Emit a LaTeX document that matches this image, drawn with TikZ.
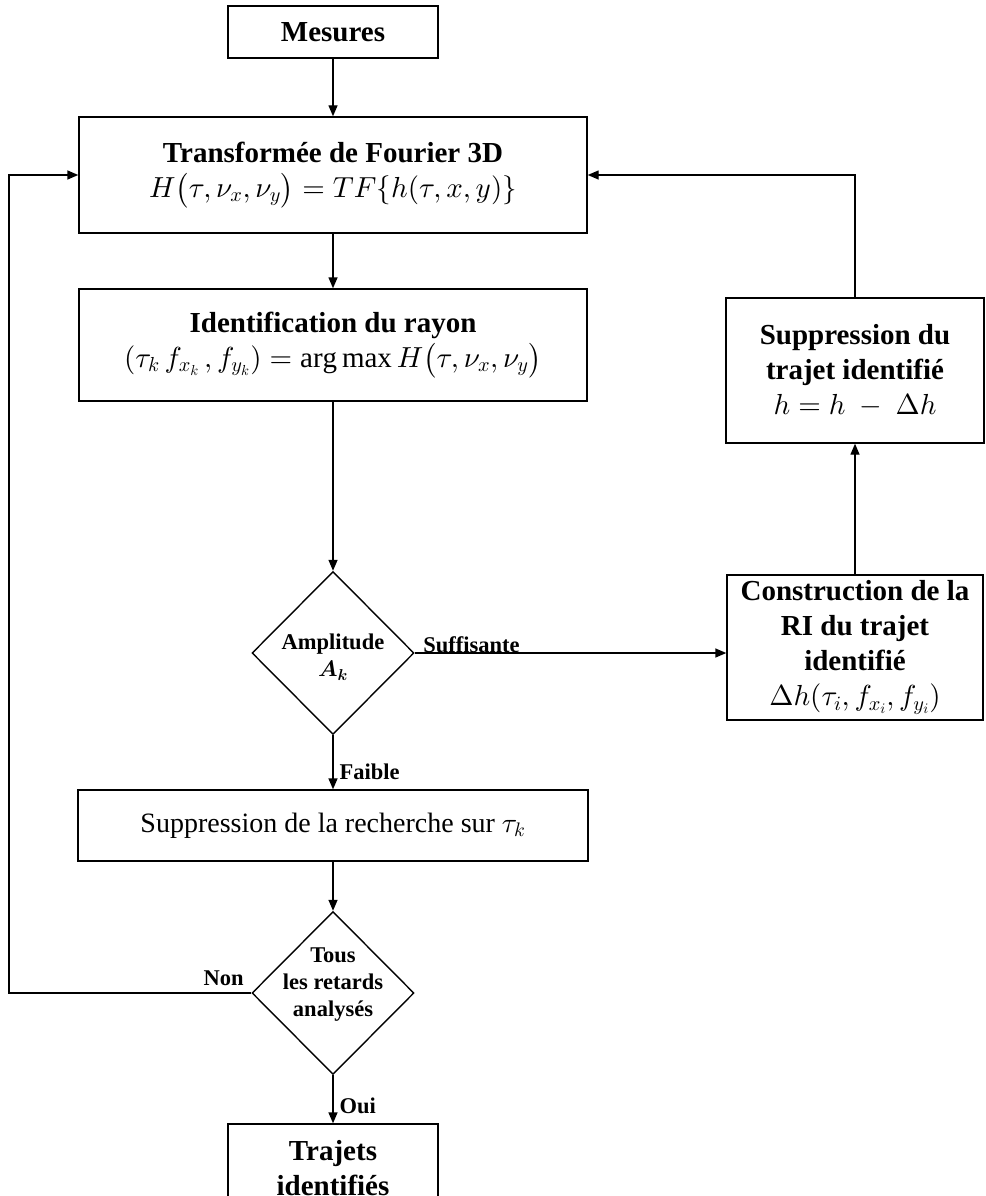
\documentclass[tikz,border=0pt]{standalone}
\usepackage{amsmath}
\usepackage{fontspec}
\setmainfont{Liberation Serif}
\usetikzlibrary{arrows.meta,shapes.geometric,calc}
% scalable math fonts
\DeclareFontShape{OML}{cmm}{m}{it}{<->cmmi10}{}
\DeclareFontShape{OML}{cmm}{b}{it}{<->cmmib10}{}
\DeclareFontShape{OMS}{cmsy}{m}{n}{<->cmsy10}{}
\DeclareFontShape{OMS}{cmsy}{b}{n}{<->cmbsy10}{}
\DeclareFontShape{OMX}{cmex}{m}{n}{<->cmex10}{}
\DeclareFontShape{OT1}{cmr}{m}{n}{<->cmr10}{}
\DeclareFontShape{OT1}{cmr}{bx}{n}{<->cmbx10}{}

\newcommand{\ttlfont}{\fontsize{29}{35}\selectfont\bfseries}
\newcommand{\lblfont}{\fontsize{22.5}{27}\selectfont\bfseries}
\newcommand{\txtfont}{\fontsize{28}{34}\selectfont}

\begin{document}
\begin{tikzpicture}[
  x=1pt, y=-1pt,
  blk/.style={draw=black, line width=1.4pt, align=center, inner sep=2pt, font=\ttlfont},
  dec/.style={draw=black, diamond, line width=1.4pt, inner sep=0pt,
              minimum width=162pt, minimum height=163pt},
  dtxt/.style={align=center, font=\lblfont, inner sep=0pt},
  flow/.style={-{Triangle[length=11pt,width=9pt]}, line width=1.4pt},
  lbl/.style={font=\lblfont, inner sep=2pt},
]
\useasboundingbox (0,0) rectangle (985,1196);

% ============ column x ============
\def\xm{333}  % main column
\def\xr{855}  % right column

% ===================== main column =====================
\node[blk, minimum width=210pt, minimum height=52pt] (mes) at (\xm,32) {Mesures};
\node[blk, minimum width=508pt, minimum height=116pt] (tf) at (\xm,175)
  {Transformée de Fourier 3D\\ $H\bigl(\tau,\nu_x,\nu_y\bigr) = TF\{h(\tau,x,y)\}$};
\node[blk, minimum width=508pt, minimum height=112pt] (id) at (\xm,345)
  {Identification du rayon\\ $(\tau_k\,f_{x_k}\,,f_{y_k}) = \arg\max H\bigl(\tau,\nu_x,\nu_y\bigr)$};
\node[dec] (amp) at (\xm,653) {};
\node[dtxt] (ampt) at (\xm,657) {Amplitude\\ $\boldsymbol{A_k}$};
\node[blk, font=\txtfont, minimum width=510pt, minimum height=71pt] (rech) at (\xm,825.5)
  {Suppression de la recherche sur $\tau_k$};
\node[dec] (ret) at (\xm,993) {};
\node[dtxt] (rett) at (\xm,985) {Tous\\ les retards\\ analysés};
\node[blk, minimum width=210pt, minimum height=88pt] (traj) at (\xm,1168) {Trajets\\ identifiés};

% ===================== right column =====================
\node[blk, minimum width=258pt, minimum height=145pt] (sup) at (\xr,370.5)
  {Suppression du\\ trajet identifié\\ $h = h\ -\ \Delta h$};
\node[blk, minimum width=256pt, minimum height=145pt] (cons) at (\xr,647.5)
  {Construction de la\\ RI du trajet\\ identifié\\ $\Delta h(\tau_i,f_{x_i},f_{y_i})$};

% loop corner
\coordinate (lft) at (9,993);

% ===================== connectors =====================
\draw[flow] (mes) -- (tf);
\draw[flow] (tf) -- (id);
\draw[flow] (id) -- (amp);
\draw[flow] (amp.east) -- (amp.east -| cons.west)
  node[lbl, pos=0, anchor=south west, xshift=6pt, yshift=-2pt] {Suffisante};
\draw[flow] (cons) -- (sup);
\draw[flow] (sup.north) |- (tf.east);
\draw[flow] (amp) -- (rech) node[lbl, pos=0.68, anchor=west, xshift=4pt] {Faible};
\draw[flow] (rech) -- (ret);
\draw[flow] (ret.west) -- (lft)
  node[lbl, pos=0, anchor=south east, xshift=-5pt, yshift=5pt] {Non} |- (tf.west);
\draw[flow] (ret) -- (traj) node[lbl, pos=0.64, anchor=west, xshift=4pt] {Oui};

\end{tikzpicture}
\end{document}
